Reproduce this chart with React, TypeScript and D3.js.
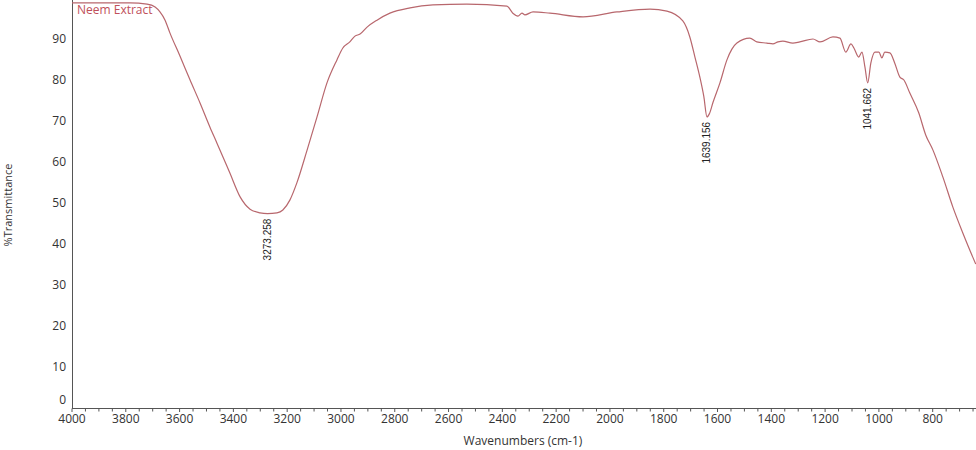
import React from "react";
import * as d3 from "d3";

const wavenumbers = [
  4000, 3896, 3784, 3721, 3691, 3673, 3654, 3636, 3599, 3561, 3524, 3487, 3461, 3413,
  3375, 3338, 3301, 3273.258, 3238, 3216, 3190, 3164, 3126, 3089, 3052, 3015, 2993,
  2967, 2948, 2929, 2903, 2866, 2818, 2743, 2658, 2532, 2383, 2361, 2342, 2327, 2316,
  2286, 2223, 2100, 1974, 1851, 1788, 1729, 1703, 1684, 1665, 1651, 1639.156, 1630,
  1617, 1591, 1565, 1528, 1480, 1454, 1416, 1394, 1375, 1357, 1320, 1294, 1245, 1219,
  1171, 1145, 1123, 1104, 1093, 1075, 1063, 1052, 1041.662, 1030, 1015, 1000, 989, 978,
  959, 941, 922, 907, 885, 852, 826, 799, 762, 725, 688, 651, 640,
];
const transmittance = [
  98.8, 98.8, 98.8, 98.5, 97.8, 96.6, 94.6, 91.5, 85.9, 80.0, 74.4, 68.5, 64.6, 57.3,
  51.5, 48.5, 47.6, 47.4, 47.6, 48.3, 50.7, 54.9, 62.9, 71.0, 79.3, 84.9, 87.8,
  89.3, 90.7, 91.2, 92.9, 94.6, 96.3, 97.6, 98.3, 98.5, 98.0, 96.3, 95.6, 96.3, 95.9,
  96.6, 96.3, 95.4, 96.6, 97.3, 96.8, 94.4, 90.5, 85.6, 80.5, 76.0, 71.0, 71.8,
  74.5, 79.3, 84.9, 89.0, 90.2, 89.3, 89.0, 88.8, 89.3, 89.5, 89.0, 89.3, 90.0, 89.3,
  90.5, 90.2, 86.8, 88.8, 87.8, 85.6, 86.8, 83.2, 79.3, 84.1, 86.8, 86.8, 85.4, 86.8,
  86.6, 84.1, 80.7, 80.0, 76.8, 72.0, 66.6, 62.9, 56.3, 49.0, 42.7, 36.8, 35.1,
];

const yTicks = [0, 10, 20, 30, 40, 50, 60, 70, 80, 90];
const xTicks = [4000, 3800, 3600, 3400, 3200, 3000, 2800, 2600, 2400, 2200, 2000, 1800, 1600, 1400, 1200, 1000, 800];
const peakLabels = [
  { w: 3273.258, t: 47.4, label: "3273.258" },
  { w: 1639.156, t: 71.0, label: "1639.156" },
  { w: 1041.662, t: 79.3, label: "1041.662" },
];
const seriesName = "Neem Extract";

export default function App() {
  const W = 976;
  const H = 450;
  const x = d3.scaleLinear().domain([4000, 639]).range([72, 976]);
  const y = d3.scaleLinear().domain([0, 100]).range([408, -2]);

  const data = wavenumbers.map((w, i) => ({ w, t: transmittance[i] }));
  const line = d3
    .line<{ w: number; t: number }>()
    .x((d) => x(d.w))
    .y((d) => y(d.t))
    .curve(d3.curveMonotoneX);

  const minorTicks = d3.range(4000, 639, -50);
  const font = "'Open Sans', 'DejaVu Sans', sans-serif";

  return (
    <svg
      width={W}
      height={H}
      style={{ position: "absolute", left: 0, top: 0, background: "#fff" }}
    >
      <rect width={W} height={H} fill="#fff" />
      {/* axes */}
      <line x1={72.5} x2={72.5} y1={0} y2={408.5} stroke="#555" strokeWidth={1} />
      <line x1={72} x2={976} y1={408.5} y2={408.5} stroke="#555" strokeWidth={1} />
      {minorTicks.map((w) => (
        <line
          key={w}
          x1={x(w)}
          x2={x(w)}
          y1={408.5}
          y2={w % 200 === 0 ? 412 : 411.5}
          stroke="#555"
          strokeWidth={1}
        />
      ))}
      {xTicks.map((w) => (
        <text
          key={w}
          x={x(w)}
          y={423}
          textAnchor="middle"
          fontFamily={font}
          fontSize={12}
          fill="#333"
        >
          {w}
        </text>
      ))}
      {yTicks.map((t) => (
        <text
          key={t}
          x={66}
          y={t === 0 ? y(t) - 8 : y(t)}
          dy="0.35em"
          textAnchor="end"
          fontFamily={font}
          fontSize={12}
          fill="#333"
        >
          {t}
        </text>
      ))}
      <text
        x={523}
        y={445}
        textAnchor="middle"
        fontFamily={font}
        fontSize={12}
        fill="#333"
      >
        Wavenumbers (cm-1)
      </text>
      <text
        transform={`translate(12,205) rotate(-90)`}
        textAnchor="middle"
        fontFamily={font}
        fontSize={11}
        fill="#333"
      >
        %Transmittance
      </text>
      {/* spectrum */}
      <path d={line(data) || ""} fill="none" stroke="#b8676d" strokeWidth={1.2} />
      {/* legend */}
      <text x={77} y={14} fontFamily={font} fontSize={12} fill="#c0505a">
        {seriesName}
      </text>
      {/* peak labels */}
      {peakLabels.map((p) => (
        <text
          key={p.label}
          transform={`translate(${x(p.w)},${y(p.t) + 5}) rotate(-90)`}
          textAnchor="end"
          dy="0.35em"
          fontFamily="'Liberation Sans', Arial, sans-serif"
          fontSize={10}
          fill="#222"
        >
          {p.label}
        </text>
      ))}
    </svg>
  );
}
